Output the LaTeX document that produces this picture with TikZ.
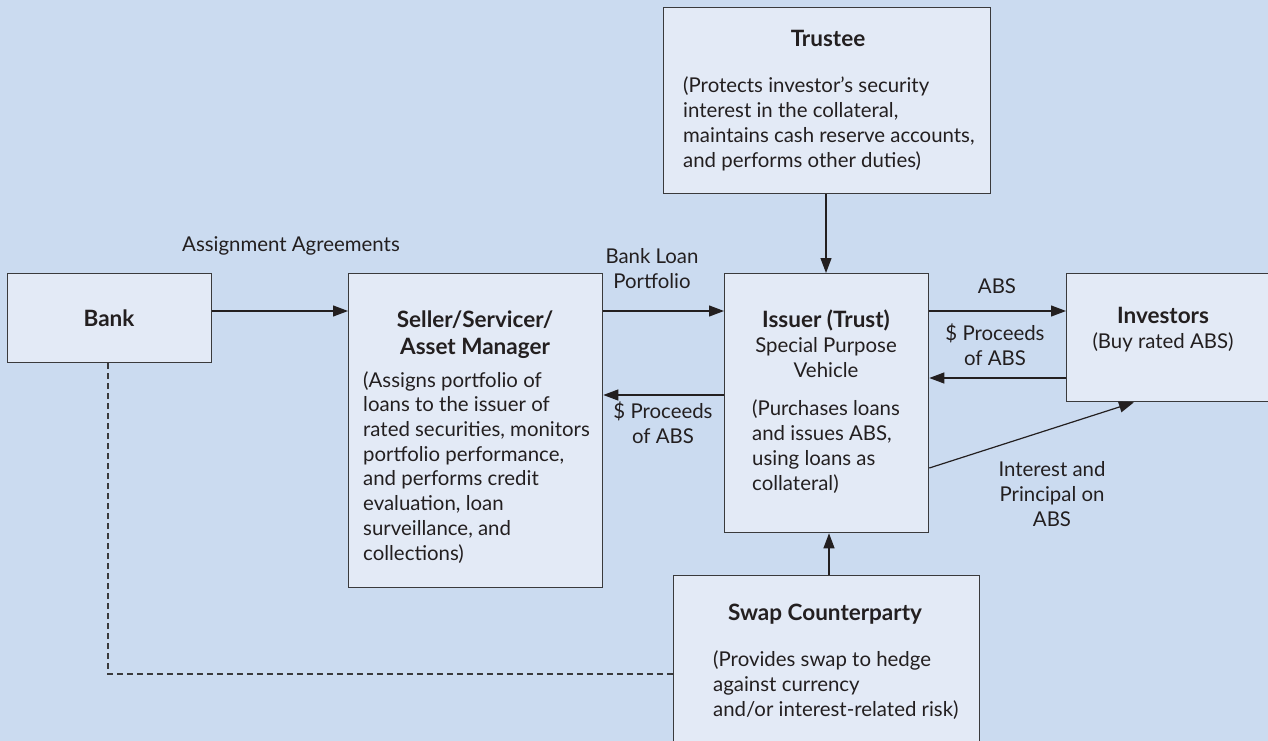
\documentclass[tikz,border=0pt]{standalone}
\usepackage{fontspec}
\setmainfont{Lato}
\usetikzlibrary{arrows.meta}
\definecolor{bgblue}{RGB}{203,219,240}
\definecolor{boxfill}{RGB}{227,234,246}
\definecolor{edge}{RGB}{58,58,60}
\definecolor{ink}{RGB}{35,31,32}
\tikzset{
  box/.style={draw=edge, fill=boxfill, line width=1.3pt, rectangle, inner sep=0pt, anchor=north west},
  txt/.style={text=ink, inner sep=0pt, font=\fontsize{20.4}{24.7}\selectfont},
  head/.style={txt, font=\fontsize{22.5}{27}\selectfont\bfseries},
  body/.style={txt, align=left, anchor=base west},
  lbl/.style={txt, align=center, anchor=base},
  arr/.style={draw=ink, line width=1.2pt, -{Triangle[length=15pt,width=11pt]}},
  dashline/.style={draw=edge, line width=1.2pt, dash pattern=on 6pt off 4pt}
}
\begin{document}
\begin{tikzpicture}[x=1pt,y=-1pt]
\fill[bgblue] (0,0) rectangle (1268,741);
\useasboundingbox (0,0) rectangle (1268,741);

% boxes
\node[box, minimum width=204pt, minimum height=89pt] (bank) at (7,273) {};
\node[box, minimum width=254pt, minimum height=314pt] (seller) at (348,273) {};
\node[box, minimum width=204pt, minimum height=259pt] (issuer) at (724,273) {};
\node[box, minimum width=220pt, minimum height=128pt] (investors) at (1066,273) {};
\node[box, minimum width=327pt, minimum height=186pt] (trustee) at (663,7) {};
\node[box, minimum width=306pt, minimum height=190pt] (swap) at (673,575) {};

% box texts (multi-line nodes: base = last line's baseline)
\node[head, anchor=base] (tbank) at (109,326) {Bank};

\node[head, anchor=base, align=center] (tseller) at (475,354) {Seller/Servicer/\\Asset Manager};
\node[body] (bseller) at (363,560) {(Assigns portfolio of\\loans to the issuer of\\rated securities, monitors\\portfolio performance,\\and performs credit\\evaluation, loan\\surveillance, and\\collections)};

\node[head, anchor=base] (tissuer) at (826,327) {Issuer (Trust)};
\node[lbl] (sissuer) at (826,377) {Special Purpose\\Vehicle};
\node[body] (bissuer) at (752,490) {(Purchases loans\\and issues ABS,\\using loans as\\collateral)};

\node[head, anchor=base] (tinv) at (1163,323) {Investors};
\node[lbl] (binv) at (1163,348) {(Buy rated ABS)};

\node[head, anchor=base] (ttrustee) at (828,47) {Trustee};
\node[body] (btrustee) at (683,167) {(Protects investor’s security\\interest in the collateral,\\maintains cash reserve accounts,\\and performs other duties)};

\node[head, anchor=base] (tswap) at (825,620) {Swap Counterparty};
\node[body] (bswap) at (713,716) {(Provides swap to hedge\\against currency\\and/or interest-related risk)};

% connector labels
\node[lbl] (lassign) at (291,251) {Assignment Agreements};
\node[lbl] (lloan) at (652,288) {Bank Loan\\Portfolio};
\node[lbl] (lproc1) at (663,443) {\$ Proceeds\\of ABS};
\node[lbl] (labs) at (997,293) {ABS};
\node[lbl] (lproc2) at (995,365) {\$ Proceeds\\of ABS};
\node[lbl] (lint) at (1052,526) {Interest and\\Principal on\\ABS};

% connectors
\draw[arr] (bank.east |- 0,311) -- (seller.west |- 0,311);
\draw[arr] (seller.east |- 0,311) -- (issuer.west |- 0,311);
\draw[arr] (issuer.west |- 0,395) -- (seller.east |- 0,395);
\draw[arr] (issuer.east |- 0,311) -- (investors.west |- 0,311);
\draw[arr] (investors.west |- 0,378) -- (issuer.east |- 0,378);
\draw[arr] (issuer.east |- 0,468) -- (investors.south -| 1134,0);
\draw[arr] (trustee.south -| 826,0) -- (issuer.north -| 826,0);
\draw[arr] (swap.north -| 829,0) -- (issuer.south -| 829,0);
\draw[dashline] (bank.south -| 108,0) |- (swap.west |- 0,674);
\end{tikzpicture}
\end{document}
